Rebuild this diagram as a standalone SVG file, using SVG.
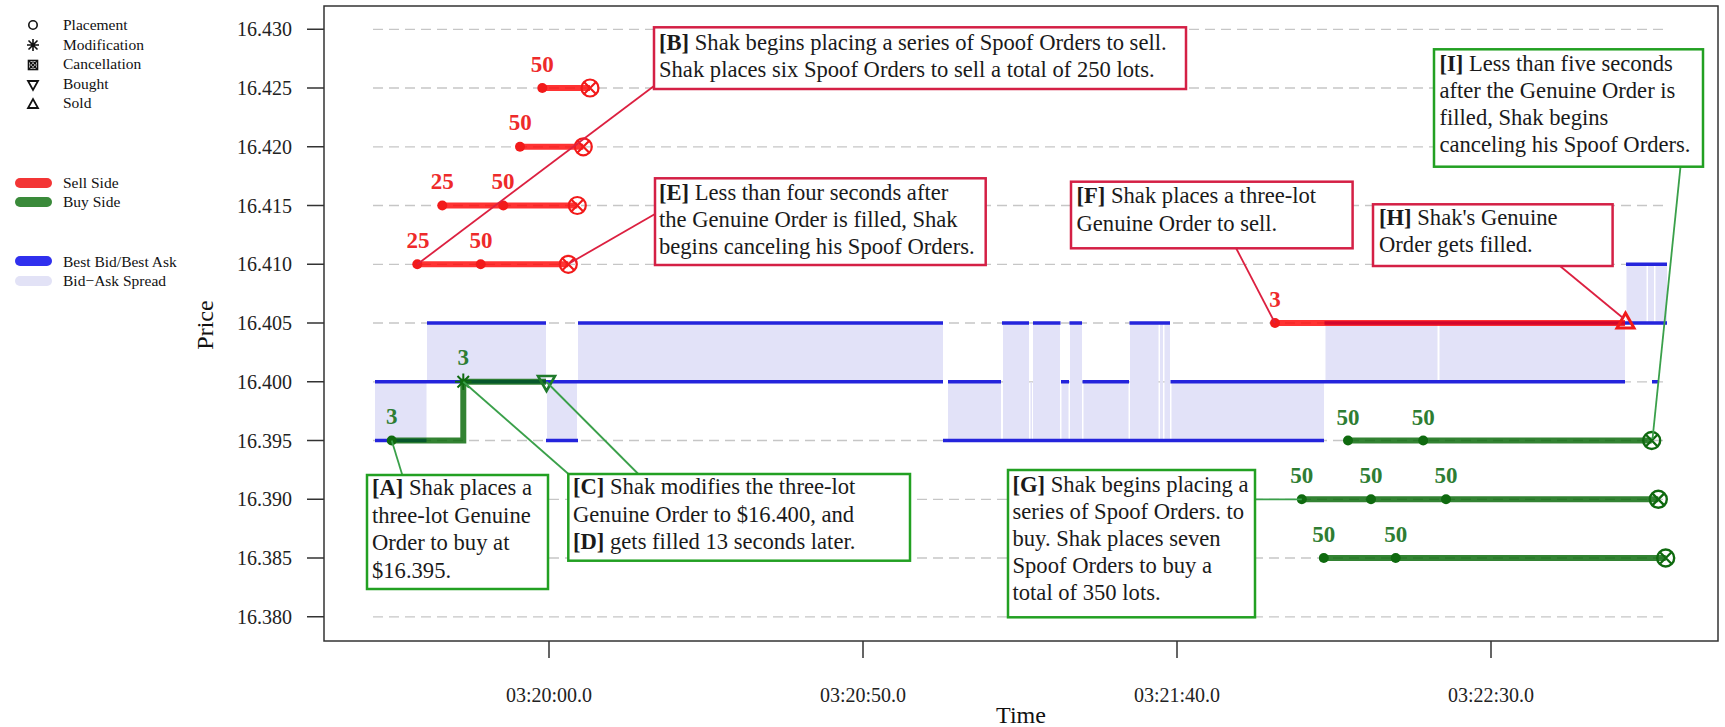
<svg xmlns="http://www.w3.org/2000/svg" xmlns:xlink="http://www.w3.org/1999/xlink" width="1725" height="727" viewBox="0 0 1725 727">
<style>
.grid{stroke:#c6c6c6;stroke-width:1.3;stroke-dasharray:10 6;fill:none}
.spread{fill:#e2e2f8}
.ba{stroke:#2424dc;stroke-width:3.5;fill:none}
.sell{stroke:#ff0000;stroke-opacity:0.8;stroke-width:6;fill:none}
.buy{stroke:#006400;stroke-opacity:0.8;stroke-width:6;fill:none}
.rdot{fill:#f21a1a}
.gdot{fill:#0f6a0f}
.rx{stroke:#f21a1a;stroke-width:2.2;fill:none}
.gx{stroke:#0f6a0f;stroke-width:2.4;fill:none}
.lab{font-family:"Liberation Serif","Times New Roman",serif;font-weight:bold;font-size:23px;text-anchor:middle}
.rl{fill:#ee2a2a}
.gl{fill:#2e7d32}
.rbox{fill:#fff;stroke:#d42045;stroke-width:2.5}
.gbox{fill:#fff;stroke:#22a022;stroke-width:2.5}
.note{font-family:"Liberation Serif","Times New Roman",serif;font-size:22.6px;fill:#1a1a1a}
.note tspan.b{font-weight:bold}
.rcon{stroke:#dc2040;stroke-width:1.8;fill:none}
.gcon{stroke:#3aa04a;stroke-width:1.8;fill:none}
.axis{stroke:#333;stroke-width:1.5;fill:none}
.tick{font-family:"Liberation Serif","Times New Roman",serif;font-size:20px;fill:#222}
.leg{font-family:"Liberation Serif","Times New Roman",serif;font-size:15.5px;fill:#111}
.ttl{font-family:"Liberation Serif","Times New Roman",serif;font-size:24px;fill:#111}
</style>
<defs>
<g id="cancel"><circle r="8.5"/><path d="M-6,-6L6,6M-6,6L6,-6"/></g>
</defs>

<g id="legend">
<circle cx="33" cy="25" r="4.2" fill="none" stroke="#111" stroke-width="1.6"/>
<text class="leg" x="63" y="30">Placement</text>
<path d="M27,45H39M33,39V51M28.5,40.5L37.5,49.5M28.5,49.5L37.5,40.5" stroke="#111" stroke-width="1.6"/>
<text class="leg" x="63" y="49.6">Modification</text>
<rect x="28.5" y="60.5" width="9" height="9" fill="none" stroke="#111" stroke-width="1.6"/>
<path d="M28.5,60.5L37.5,69.5M28.5,69.5L37.5,60.5" stroke="#111" stroke-width="1.3"/>
<circle cx="33" cy="65" r="3" fill="none" stroke="#111" stroke-width="1"/>
<text class="leg" x="63" y="69.2">Cancellation</text>
<path d="M28,81H38L33,90Z" fill="none" stroke="#111" stroke-width="1.8"/>
<text class="leg" x="63" y="88.8">Bought</text>
<path d="M28,108H38L33,99Z" fill="none" stroke="#111" stroke-width="1.8"/>
<text class="leg" x="63" y="108.4">Sold</text>
<path d="M20,183H47" stroke="#f33535" stroke-width="10" stroke-linecap="round"/>
<text class="leg" x="63" y="188.3">Sell Side</text>
<path d="M20,202H47" stroke="#3a8a3a" stroke-width="10" stroke-linecap="round"/>
<text class="leg" x="63" y="207.3">Buy Side</text>
<path d="M20,261H47" stroke="#3030ee" stroke-width="10" stroke-linecap="round"/>
<text class="leg" x="63" y="266.5">Best Bid/Best Ask</text>
<path d="M20,281H47" stroke="#e2e2f6" stroke-width="10" stroke-linecap="round"/>
<text class="leg" x="63" y="286">Bid−Ask Spread</text>
</g>

<g id="axes">
<rect class="axis" x="324" y="6" width="1394" height="635"/>
<path class="axis" d="M307,29.3H324M307,88H324M307,146.8H324M307,205.5H324M307,264.3H324M307,323H324M307,381.8H324M307,440.5H324M307,499.3H324M307,558H324M307,616.8H324"/>
<g class="tick" text-anchor="end">
<text x="292" y="36.3">16.430</text>
<text x="292" y="95">16.425</text>
<text x="292" y="153.8">16.420</text>
<text x="292" y="212.5">16.415</text>
<text x="292" y="271.3">16.410</text>
<text x="292" y="330">16.405</text>
<text x="292" y="388.8">16.400</text>
<text x="292" y="447.5">16.395</text>
<text x="292" y="506.3">16.390</text>
<text x="292" y="565">16.385</text>
<text x="292" y="623.8">16.380</text>
</g>
<path class="axis" d="M549,641V658M863,641V658M1177,641V658M1491,641V658"/>
<g class="tick" text-anchor="middle">
<text x="549" y="702">03:20:00.0</text>
<text x="863" y="702">03:20:50.0</text>
<text x="1177" y="702">03:21:40.0</text>
<text x="1491" y="702">03:22:30.0</text>
</g>
<text class="ttl" x="1021" y="723" text-anchor="middle">Time</text>
<text class="ttl" x="213" y="325" text-anchor="middle" transform="rotate(-90 213 325)">Price</text>
</g>

<g id="grid">
<path class="grid" d="M373,29.3H1668M373,88H1668M373,146.8H1668M373,205.5H1668M373,264.3H1668M373,323H1668M373,381.8H1668M373,440.5H1668M373,499.3H1668M373,558H1668M373,616.8H1668"/>
</g>

<g id="spread">
<rect class="spread" x="375" y="382" width="51.5" height="58.5"/>
<rect class="spread" x="427" y="323" width="119" height="59"/>
<rect class="spread" x="547" y="382" width="30" height="58.5"/>
<rect class="spread" x="578" y="323" width="365" height="59"/>
<rect class="spread" x="948" y="382" width="53" height="58.5"/>
<rect class="spread" x="1003" y="323" width="26" height="117.5"/>
<rect class="spread" x="1030.5" y="382" width="1.5" height="58.5"/>
<rect class="spread" x="1033" y="323" width="27" height="117.5"/>
<rect class="spread" x="1061.5" y="382" width="7" height="58.5"/>
<rect class="spread" x="1070" y="323" width="12" height="117.5"/>
<rect class="spread" x="1083.5" y="382" width="45" height="58.5"/>
<rect class="spread" x="1130" y="323" width="28.5" height="117.5"/>
<rect class="spread" x="1160" y="323" width="3" height="117.5"/>
<rect class="spread" x="1164.5" y="323" width="5.5" height="117.5"/>
<rect class="spread" x="1171.5" y="382" width="152.5" height="58.5"/>
<rect class="spread" x="1325.5" y="323" width="112" height="59"/>
<rect class="spread" x="1439.5" y="323" width="185.5" height="59"/>
<rect class="spread" x="1626.5" y="264.3" width="20" height="58.7"/>
<rect class="spread" x="1648" y="264.3" width="6" height="58.7"/>
<rect class="spread" x="1655.5" y="264.3" width="11.5" height="58.7"/>
</g>

<g id="bestbidask">
<path class="ba" d="M375,381.8H943M375,440.5H426.5M427,323H546M546,440.5H578M578,323H943"/>
<path class="ba" d="M943,440.5H1324M948,381.8H1001M1002,323H1029M1033,323H1060.5M1061,381.8H1069M1069.5,323H1082M1082.5,381.8H1129M1129.5,323H1170M1170.5,381.8H1625"/>
<path class="ba" d="M1324.5,323H1667M1626,264.3H1667M1652,381.8H1659"/>
</g>

<g id="genuine-buy">
<path class="buy" d="M391.7,440.5H463.3V381.8H546"/>
<circle class="gdot" cx="391.7" cy="440.5" r="5"/>
<path d="M455,381.8H471.5M463.3,373.5V390M457.5,376L469,387.5M457.5,387.5L469,376" stroke="#0f6a0f" stroke-width="2"/>
<path d="M538,376H555L546.5,391Z" fill="none" stroke="#1f7a2a" stroke-width="2.6"/>
<text class="lab gl" x="391.7" y="424">3</text>
<text class="lab gl" x="463.3" y="365">3</text>
</g>

<g id="spoof-sell">
<path class="sell" d="M542.3,88H590M520,146.8H583.3M442.3,205.5H577.3M503.3,205.5H577.3M417.3,264.3H568.3M480.7,264.3H568.3"/>
<circle class="rdot" cx="542.3" cy="88" r="5"/>
<circle class="rdot" cx="520" cy="146.8" r="5"/>
<circle class="rdot" cx="442.3" cy="205.5" r="5"/>
<circle class="rdot" cx="503.3" cy="205.5" r="5"/>
<circle class="rdot" cx="417.3" cy="264.3" r="5"/>
<circle class="rdot" cx="480.7" cy="264.3" r="5"/>
<use xlink:href="#cancel" class="rx" x="590" y="88"/>
<use xlink:href="#cancel" class="rx" x="583.3" y="146.8"/>
<use xlink:href="#cancel" class="rx" x="577.3" y="205.5"/>
<use xlink:href="#cancel" class="rx" x="568.3" y="264.3"/>
<text class="lab rl" x="542.3" y="71.5">50</text>
<text class="lab rl" x="520.3" y="129.5">50</text>
<text class="lab rl" x="442.3" y="188.5">25</text>
<text class="lab rl" x="503" y="188.5">50</text>
<text class="lab rl" x="418" y="247.5">25</text>
<text class="lab rl" x="481" y="247.5">50</text>
</g>

<g id="genuine-sell">
<path class="sell" d="M1275,323H1625"/>
<circle class="rdot" cx="1275" cy="323" r="5"/>
<path d="M1617,328H1634L1625.5,313Z" fill="none" stroke="#f21a1a" stroke-width="3"/>
<text class="lab rl" x="1275" y="306.5">3</text>
</g>

<g id="spoof-buy">
<path class="buy" d="M1348,440.5H1651.7M1423.2,440.5H1651.7M1301.8,499.3H1658.3M1371,499.3H1658.3M1446,499.3H1658.3M1323.8,558H1665.7M1395.7,558H1665.7"/>
<circle class="gdot" cx="1348" cy="440.5" r="5"/>
<circle class="gdot" cx="1423.2" cy="440.5" r="5"/>
<circle class="gdot" cx="1301.8" cy="499.3" r="5"/>
<circle class="gdot" cx="1371" cy="499.3" r="5"/>
<circle class="gdot" cx="1446" cy="499.3" r="5"/>
<circle class="gdot" cx="1323.8" cy="558" r="5"/>
<circle class="gdot" cx="1395.7" cy="558" r="5"/>
<use xlink:href="#cancel" class="gx" x="1651.7" y="440.5"/>
<use xlink:href="#cancel" class="gx" x="1658.3" y="499.3"/>
<use xlink:href="#cancel" class="gx" x="1665.7" y="558"/>
<text class="lab gl" x="1348" y="425">50</text>
<text class="lab gl" x="1423.2" y="425">50</text>
<text class="lab gl" x="1301.8" y="483.3">50</text>
<text class="lab gl" x="1371" y="483.3">50</text>
<text class="lab gl" x="1446" y="483.3">50</text>
<text class="lab gl" x="1323.8" y="541.7">50</text>
<text class="lab gl" x="1395.7" y="541.7">50</text>
</g>

<g id="connectors">
<path class="gcon" d="M391.7,440.5L402.3,475"/>
<path class="rcon" d="M417.3,264.3L654,86"/>
<path class="gcon" d="M463.3,381.8L568.5,474"/>
<path class="gcon" d="M546.5,382L638.3,474"/>
<path class="rcon" d="M570,263L655,214"/>
<path class="rcon" d="M1236,248L1275,323"/>
<path class="gcon" d="M1255,499.3H1301.8"/>
<path class="rcon" d="M1560,266L1623,318"/>
<path class="gcon" d="M1680.5,166.7L1652.5,439"/>
</g>

<g id="note-A">
<rect class="gbox" x="367" y="475" width="181" height="114"/>
<text class="note"><tspan x="372" y="495"><tspan class="b">[A]</tspan> Shak places a</tspan><tspan x="372" y="522.5">three-lot Genuine</tspan><tspan x="372" y="550">Order to buy at</tspan><tspan x="372" y="577.5">$16.395.</tspan></text>
</g>
<g id="note-B">
<rect class="rbox" x="654" y="27.3" width="532" height="61.7"/>
<text class="note"><tspan x="659" y="50"><tspan class="b">[B]</tspan> Shak begins placing a series of Spoof Orders to sell.</tspan><tspan x="659" y="77">Shak places six Spoof Orders to sell a total of 250 lots.</tspan></text>
</g>
<g id="note-C">
<rect class="gbox" x="568.3" y="474" width="341.7" height="86.7"/>
<text class="note"><tspan x="573" y="494"><tspan class="b">[C]</tspan> Shak modifies the three-lot</tspan><tspan x="573" y="521.5">Genuine Order to $16.400, and</tspan><tspan x="573" y="549"><tspan class="b">[D]</tspan> gets filled 13 seconds later.</tspan></text>
</g>
<g id="note-E">
<rect class="rbox" x="655" y="178.3" width="330.7" height="86.7"/>
<text class="note"><tspan x="659" y="200"><tspan class="b">[E]</tspan> Less than four seconds after</tspan><tspan x="659" y="227.3">the Genuine Order is filled, Shak</tspan><tspan x="659" y="254">begins canceling his Spoof Orders.</tspan></text>
</g>
<g id="note-F">
<rect class="rbox" x="1071" y="181.7" width="281.6" height="66.6"/>
<text class="note"><tspan x="1076.5" y="203.3"><tspan class="b">[F]</tspan> Shak places a three-lot</tspan><tspan x="1076.5" y="230.7">Genuine Order to sell.</tspan></text>
</g>
<g id="note-G">
<rect class="gbox" x="1008" y="470" width="247" height="147.3"/>
<text class="note"><tspan x="1012.5" y="491.7"><tspan class="b">[G]</tspan> Shak begins placing a</tspan><tspan x="1012.5" y="518.7">series of Spoof Orders. to</tspan><tspan x="1012.5" y="545.7">buy. Shak places seven</tspan><tspan x="1012.5" y="572.8">Spoof Orders to buy a</tspan><tspan x="1012.5" y="600">total of 350 lots.</tspan></text>
</g>
<g id="note-H">
<rect class="rbox" x="1373" y="204.3" width="239.6" height="61.7"/>
<text class="note"><tspan x="1379" y="225"><tspan class="b">[H]</tspan> Shak's Genuine</tspan><tspan x="1379" y="252.3">Order gets filled.</tspan></text>
</g>
<g id="note-I">
<rect class="gbox" x="1434" y="49.3" width="269" height="117.4"/>
<text class="note"><tspan x="1439.5" y="70.7"><tspan class="b">[I]</tspan> Less than five seconds</tspan><tspan x="1439.5" y="98">after the Genuine Order is</tspan><tspan x="1439.5" y="125.2">filled, Shak begins</tspan><tspan x="1439.5" y="152.4">canceling his Spoof Orders.</tspan></text>
</g>
</svg>
